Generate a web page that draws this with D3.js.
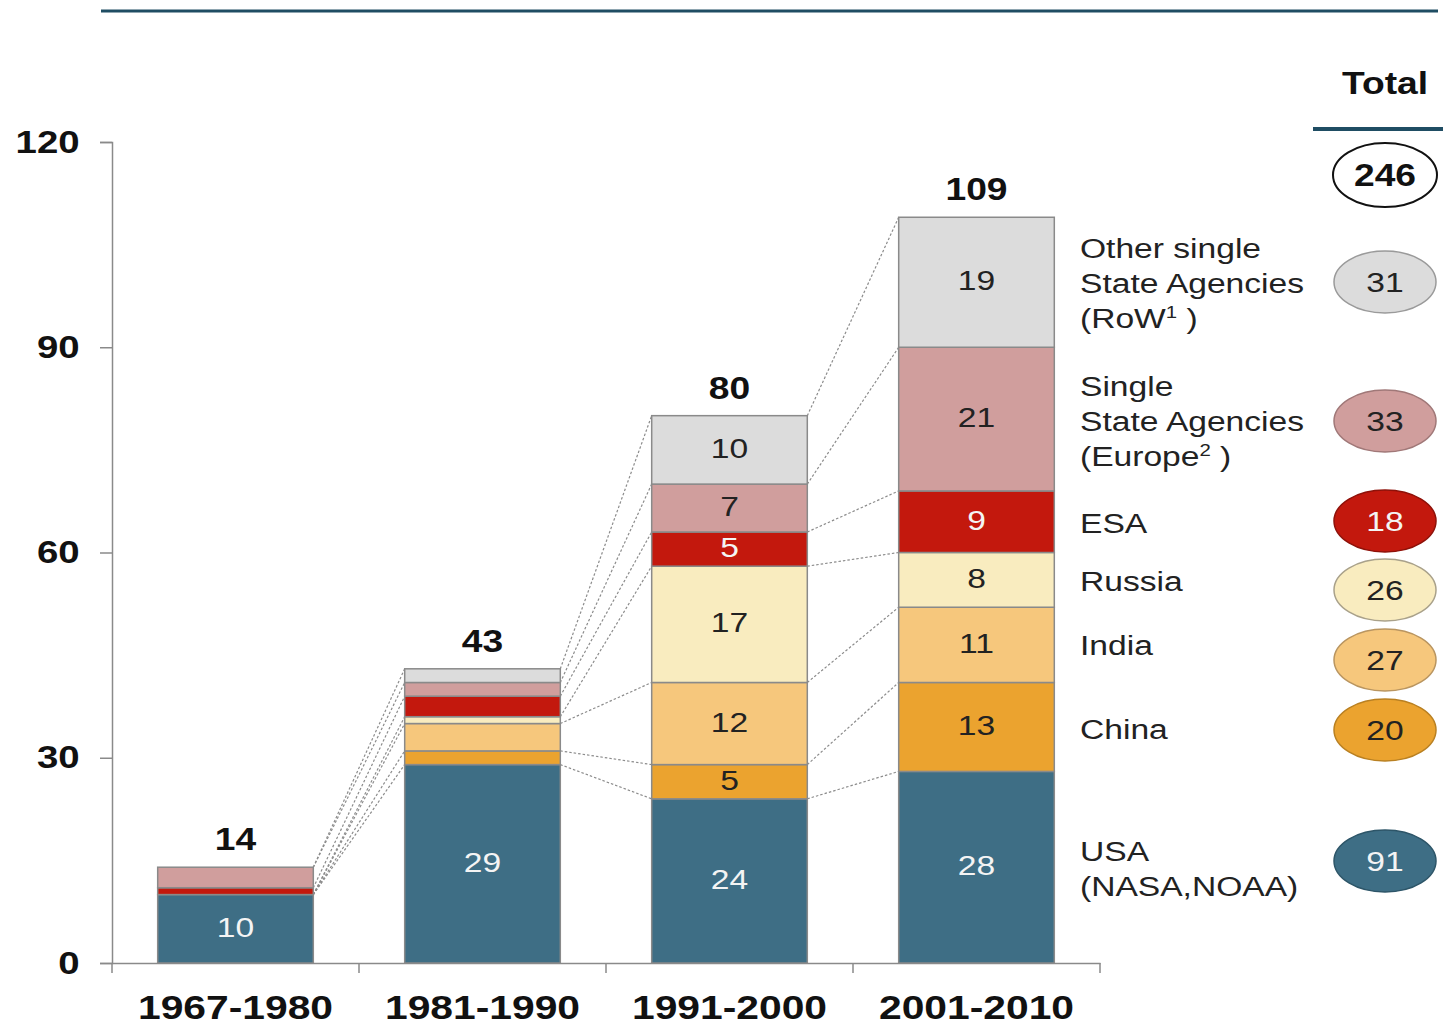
<!DOCTYPE html>
<html>
<head>
<meta charset="utf-8">
<script src="https://cdn.jsdelivr.net/npm/d3@7"></script>
<style>
  body { margin: 0; background: #fff; }
  svg text { font-family: Arial, "Liberation Sans", sans-serif; }
</style>
</head>
<body>
<svg id="chart" width="1443" height="1025"></svg>
<script>
// data
var periods = ['1967-1980', '1981-1990', '1991-2000', '2001-2010']
var usa    = [10, 29, 24, 28]
var china  = [0, 2, 5, 13]
var india  = [0, 4, 12, 11]
var russia = [0, 1, 17, 8]
var esa    = [1, 3, 5, 9]
var europe = [3, 2, 7, 21]
var rowAg  = [0, 2, 10, 19]
var yTicks = [0, 30, 60, 90, 120]

var keys = ['usa', 'china', 'india', 'russia', 'esa', 'europe', 'row']
var seriesValues = { usa: usa, china: china, india: india, russia: russia, esa: esa, europe: europe, row: rowAg }
var legendLines = {
  row: [['Other single'], ['State Agencies'], ['(RoW', '1', ' )']],
  europe: [['Single'], ['State Agencies'], ['(Europe', '2', ' )']],
  esa: [['ESA']],
  russia: [['Russia']],
  india: [['India']],
  china: [['China']],
  usa: [['USA'], ['(NASA,NOAA)']]
}

// styles
var colors = {
  usa: '#3e6e85', china: '#eba32f', india: '#f6c77c', russia: '#f9ecbf',
  esa: '#c3180d', europe: '#d09e9d', row: '#dcdcdc'
}
var ellipseStroke = {
  usa: '#2d5568', china: '#b98022', india: '#b99560', russia: '#a9a18a',
  esa: '#8e1109', europe: '#a07878', row: '#9a9a9a'
}
var whiteText = { usa: true, esa: true }
var lineColor = '#1f4d63'
var sx = 1.2  // text in the picture is stretched sideways

// layout
var legendTextY = { row: 283, europe: 421, esa: 523, russia: 581, india: 645, china: 729, usa: 868 }
var legendEllY  = { row: 282, europe: 421, esa: 521, russia: 590, india: 660, china: 730, usa: 861 }

var svg = d3.select('#chart')

var rows = periods.map(function(p, i) {
  var r = { period: p }
  keys.forEach(function(k) { r[k] = seriesValues[k][i] })
  return r
})
var stacked = d3.stack().keys(keys)(rows)
var totals = rows.map(function(r) { return d3.sum(keys, function(k) { return r[k] }) })

var x = d3.scaleBand().domain(periods).range([112, 1100]).paddingInner(0.37).paddingOuter(0.185)
var y = d3.scaleLinear().domain([0, 120]).range([963, 142])

function stretched(sel, tx, ty) {
  return sel.attr('transform', 'translate(' + tx + ',' + ty + ') scale(' + sx + ',1)')
}

// top rule
svg.append('line').attr('x1', 101).attr('x2', 1438).attr('y1', 11).attr('y2', 11)
  .attr('stroke', lineColor).attr('stroke-width', 3)

// y axis
var yAxis = svg.append('g').attr('transform', 'translate(112,0)')
  .call(d3.axisLeft(y).tickValues(yTicks).tickSize(12).tickPadding(15))
yAxis.select('.domain').attr('stroke', '#8a8a8a').attr('stroke-width', 1.5)
yAxis.selectAll('.tick line').attr('stroke', '#8a8a8a').attr('stroke-width', 1.5)
yAxis.selectAll('.tick text')
  .attr('font-size', 32).attr('font-weight', 'bold').attr('fill', '#111')
  .attr('font-family', 'Arial, "Liberation Sans", sans-serif')
  .attr('transform', 'scale(' + sx + ',1)')

// x axis
var xAxis = svg.append('g').attr('transform', 'translate(0,963)')
  .call(d3.axisBottom(x).tickSize(0).tickPadding(0))
xAxis.select('.domain').attr('stroke', '#8a8a8a').attr('stroke-width', 1.5)
xAxis.selectAll('.tick text')
  .attr('y', 0).attr('dy', null)
  .attr('font-size', 34).attr('font-weight', 'bold').attr('fill', '#111')
  .attr('font-family', 'Arial, "Liberation Sans", sans-serif')
  .attr('transform', 'translate(0,56) scale(' + sx + ',1)')
var bounds = periods.map(function(p) { return x(p) - x.step() * x.paddingInner() / 2 })
bounds.push(x.range()[1])
bounds[0] = x.range()[0]
xAxis.selectAll('line.sep').data(bounds).enter().append('line')
  .attr('x1', function(d) { return d }).attr('x2', function(d) { return d })
  .attr('y1', 0).attr('y2', 10)
  .attr('stroke', '#8a8a8a').attr('stroke-width', 1.5)

// dotted connectors between neighbouring bars
var links = []
stacked.forEach(function(s) {
  for (var i = 0; i < periods.length - 1; i++) {
    links.push({ x1: x(periods[i]) + x.bandwidth(), y1: y(s[i][1]), x2: x(periods[i + 1]), y2: y(s[i + 1][1]) })
  }
})
svg.append('g').selectAll('line').data(links).enter().append('line')
  .attr('x1', function(d) { return d.x1 }).attr('y1', function(d) { return d.y1 })
  .attr('x2', function(d) { return d.x2 }).attr('y2', function(d) { return d.y2 })
  .attr('stroke', '#8c8c8c').attr('stroke-width', 1.2).attr('stroke-dasharray', '2.5,2')

// bars
var layer = svg.append('g').selectAll('g').data(stacked).enter().append('g')
  .attr('fill', function(s) { return colors[s.key] })
layer.selectAll('rect').data(function(s) { return s.filter(function(d) { return d[1] > d[0] }) })
  .enter().append('rect')
  .attr('x', function(d) { return x(d.data.period) })
  .attr('width', x.bandwidth())
  .attr('y', function(d) { return y(d[1]) })
  .attr('height', function(d) { return y(d[0]) - y(d[1]) })
  .attr('stroke', '#8a8a8a').attr('stroke-width', 1.5)

// value labels inside segments
stacked.forEach(function(s) {
  s.forEach(function(d) {
    var v = d[1] - d[0]
    if (v < 5) return
    stretched(svg.append('text'), x(d.data.period) + x.bandwidth() / 2, (y(d[0]) + y(d[1])) / 2 + 8)
      .attr('text-anchor', 'middle').attr('font-size', 28)
      .attr('fill', whiteText[s.key] ? '#f4f4f4' : '#222')
      .text(v)
  })
})

// totals above bars
periods.forEach(function(p, i) {
  stretched(svg.append('text'), x(p) + x.bandwidth() / 2, y(totals[i]) - 17)
    .attr('text-anchor', 'middle').attr('font-size', 31).attr('font-weight', 'bold')
    .attr('fill', '#111').text(totals[i])
})

// legend labels
keys.forEach(function(k) {
  var lines = legendLines[k]
  var y0 = legendTextY[k] - (lines.length - 1) * 35 / 2 + 10
  lines.forEach(function(parts, j) {
    var t = stretched(svg.append('text'), 1080, y0 + j * 35)
      .attr('font-size', 28).attr('fill', '#222')
    t.append('tspan').text(parts[0])
    if (parts.length > 1) {
      t.append('tspan').attr('font-size', 17).attr('dy', -10).text(parts[1])
      t.append('tspan').attr('dy', 10).text(parts[2])
    }
  })
})

// totals column
stretched(svg.append('text'), 1385, 94)
  .attr('text-anchor', 'middle').attr('font-size', 31).attr('font-weight', 'bold')
  .attr('fill', '#111').text('Total')
svg.append('line').attr('x1', 1313).attr('x2', 1443).attr('y1', 129).attr('y2', 129)
  .attr('stroke', lineColor).attr('stroke-width', 4)

svg.append('ellipse').attr('cx', 1385).attr('cy', 175).attr('rx', 52).attr('ry', 32)
  .attr('fill', '#fff').attr('stroke', '#111').attr('stroke-width', 2)
stretched(svg.append('text'), 1385, 186)
  .attr('text-anchor', 'middle').attr('font-size', 31).attr('font-weight', 'bold')
  .attr('fill', '#111').text(d3.sum(totals))

keys.forEach(function(k) {
  var cy = legendEllY[k]
  svg.append('ellipse').attr('cx', 1385).attr('cy', cy).attr('rx', 51).attr('ry', 31)
    .attr('fill', colors[k]).attr('stroke', ellipseStroke[k]).attr('stroke-width', 1.5)
  stretched(svg.append('text'), 1385, cy + 10)
    .attr('text-anchor', 'middle').attr('font-size', 28)
    .attr('fill', whiteText[k] ? '#f4f4f4' : '#222')
    .text(d3.sum(seriesValues[k]))
})
</script>
</body>
</html>
